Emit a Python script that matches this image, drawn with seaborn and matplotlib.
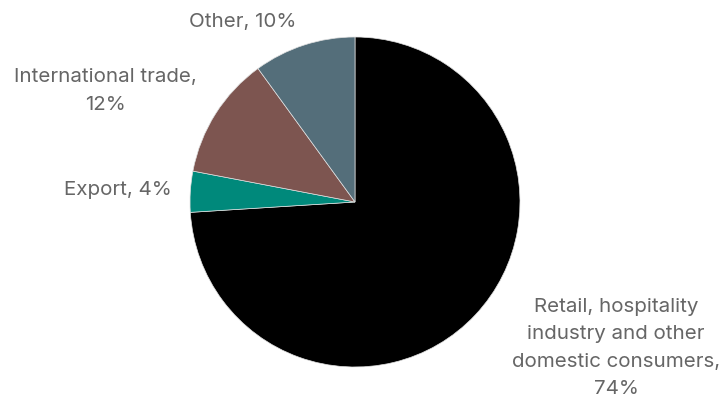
import matplotlib
matplotlib.use("Agg")
import matplotlib.pyplot as plt
import numpy as np
import seaborn as sns

categories = ["Retail, hospitality\nindustry and other\ndomestic consumers,\n74%",
              "Export, 4%", "International trade,\n12%", "Other, 10%"]
values = [74, 4, 12, 10]
colors = ["#000000", "#00897B", "#7D5550", "#546E7A"]
label_dist = [1.30, 1.11, 1.17, 1.15]
label_ang_offset = [0.3, 0, -2.7, 0]

sns.set_theme(style="white")
plt.rcParams['font.family'] = ['Inter', 'DejaVu Sans']

W, H = 723, 401
fig = plt.figure(figsize=(W / 100, H / 100), dpi=100)
cx, cy, r = 355, 202, 165
ax = fig.add_axes([(cx - r) / W, (H - cy - r) / H, 2 * r / W, 2 * r / H])

wedges, texts = ax.pie(values, labels=categories, colors=colors, startangle=90,
                       counterclock=False, labeldistance=1.17,
                       wedgeprops=dict(edgecolor="#e0e0e0", linewidth=0.5),
                       textprops=dict(color="#666666", fontsize=14.8,
                                      multialignment="center", linespacing=1.68))
for w, t, d, o in zip(wedges, texts, label_dist, label_ang_offset):
    ang = np.deg2rad((w.theta1 + w.theta2) / 2 + o)
    t.set_position((d * np.cos(ang), d * np.sin(ang)))

ax.set_xlim(-1, 1)
ax.set_ylim(-1, 1)
ax.set_aspect("equal")
ax.axis("off")
fig.savefig("out.png", dpi=100)
